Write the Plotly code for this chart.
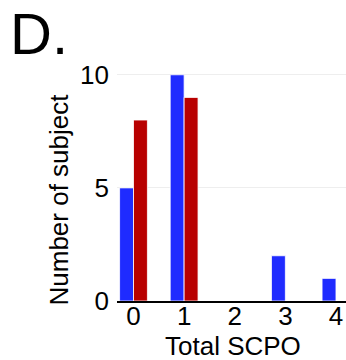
import plotly.graph_objects as go

categories = [0, 1, 2, 3, 4]
blue_values = [5, 10, 0, 2, 1]
red_values = [8, 9, 0, 0, 0]

W, H = 346, 360
L, R, T, B = 117, 0, 68, 59
PW, PH = W - L - R, H - T - B


def px_x(px):
    return (px - L) / PW


def px_y(py):
    return (H - B - py) / PH


fig = go.Figure()
fig.add_trace(go.Bar(x=categories, y=blue_values, marker=dict(color="#1f2bff", line=dict(color="white", width=0.8)), showlegend=False))
fig.add_trace(go.Bar(x=categories, y=red_values, marker=dict(color="#b80000", line=dict(color="white", width=0.8)), showlegend=False))

fig.update_layout(
    width=W, height=H,
    margin=dict(l=L, r=R, t=T, b=B, autoexpand=False),
    barmode="group", bargap=0.45, bargroupgap=0.0,
    plot_bgcolor="white", paper_bgcolor="white",
    font=dict(family="Liberation Sans, Arial, sans-serif", color="black", size=26),
    xaxis=dict(range=[-0.326, 4.198], tickmode="array", tickvals=categories, ticktext=[str(c) for c in categories],
               showline=True, linecolor="black", linewidth=1.5, showgrid=False, ticks="", automargin=False,
               tickfont=dict(size=26), ticklabelstandoff=-9),
    yaxis=dict(range=[0, 10.3], tickvals=[0, 5, 10], showgrid=True, gridcolor="#eeeeee", gridwidth=1,
               zeroline=False, showline=False, ticks="", ticklabelstandoff=7, automargin=False,
               tickfont=dict(size=26)),
    annotations=[
        dict(text="D.", xref="paper", yref="paper", x=px_x(8), y=px_y(34), xanchor="left", yanchor="middle",
             showarrow=False, font=dict(size=58)),
        dict(text="Number of subject", xref="paper", yref="paper", x=px_x(58), y=px_y(199.5), xanchor="center",
             yanchor="middle", textangle=-90, showarrow=False, font=dict(size=26)),
        dict(text="Total SCPO", xref="paper", yref="paper", x=px_x(232.5), y=px_y(345.5), xanchor="center",
             yanchor="middle", showarrow=False, font=dict(size=26)),
    ],
)

fig.write_html("out.html", config={"displayModeBar": False}, post_script="document.body.style.margin='0px';")
